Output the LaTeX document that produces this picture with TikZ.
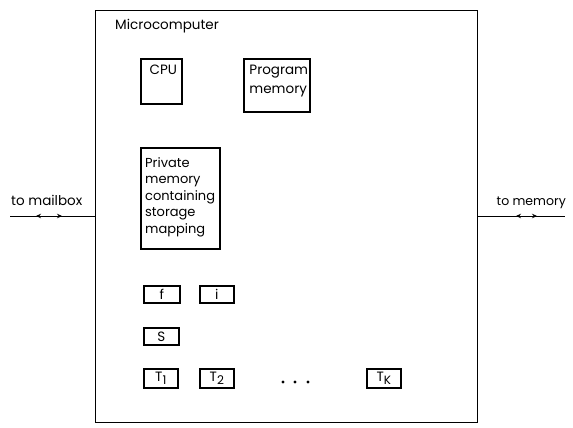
\documentclass[tikz,border=0pt]{standalone}
\usepackage{fontspec}
\setmainfont{Poppins}
\usetikzlibrary{arrows.meta}
\newcommand{\lsub}[1]{\raisebox{-2.5pt}{\fontsize{12}{12}\selectfont #1}}
\begin{document}
\begin{tikzpicture}[x=1pt,y=-1pt,
  box/.style={draw,line width=1.6pt,inner sep=0pt,anchor=north west},
  lbl/.style={font=\fontsize{13.5}{16}\selectfont},
  wire/.style={line width=1pt},
  tip/.style={-{Stealth[length=5pt,width=4.5pt]},line width=1pt}]
\useasboundingbox (0,0) rectangle (573,428);
\node[box,line width=1.1pt,minimum width=382pt,minimum height=412pt] (mc) at (95,10) {};
\node[lbl,anchor=north west,inner sep=0pt] (mct) at (115,19) {Microcomputer};
\node[box,minimum width=41pt,minimum height=45pt] (cpu) at (140,58) {};
\node[lbl,anchor=north,inner sep=0pt] (cput) at ([xshift=2pt,yshift=-7pt]cpu.north) {CPU};
\node[box,minimum width=66pt,minimum height=53pt] (pm) at (243,58) {};
\node[anchor=north,align=left,font=\fontsize{13.5}{19}\selectfont,inner sep=0pt] (pmt) at ([xshift=2pt,yshift=-7pt]pm.north) {Program\\memory};
\node[box,minimum width=79pt,minimum height=101pt] (pv) at (140,147) {};
\node[anchor=north west,align=left,font=\fontsize{13}{16.5}\selectfont,inner sep=0pt] (pvt) at ([xshift=5pt,yshift=-10pt]pv.north west) {Private\\memory\\containing\\storage\\mapping};
\node[box,minimum width=36pt,minimum height=17pt] (f) at (143,285) {};
\node[lbl] at (f.center) {f};
\node[box,minimum width=34pt,minimum height=17pt] (i) at (199,285) {};
\node[lbl] at (i.center) {i};
\node[box,minimum width=35pt,minimum height=17pt] (s) at (143,327) {};
\node[lbl] at (s.center) {S};
\node[box,minimum width=34pt,minimum height=19pt] (t1) at (143,368) {};
\node[lbl] at (t1.center) {T\lsub{1}};
\node[box,minimum width=34pt,minimum height=19pt] (t2) at (199,368) {};
\node[lbl] at (t2.center) {T\lsub{2}};
\node[box,minimum width=34pt,minimum height=19pt] (tk) at (366,368) {};
\node[lbl] at (tk.center) {T\lsub{K}};
\foreach \x in {283,295,308} \fill (\x,382) circle (1.7pt);
% left connector
\coordinate (lend) at (10,216);
\draw[wire] (lend) -- (lend -| mc.west);
\draw[tip] (48,216) -- (36,216);
\draw[tip] (50,216) -- (62,216);
\node[lbl,anchor=base west,inner sep=0pt] at (11,205) {to mailbox};
% right connector
\coordinate (rend) at (565,216);
\draw[wire] (rend -| mc.east) -- (rend);
\draw[tip] (526,216) -- (516,216);
\draw[tip] (527,216) -- (537,216);
\node[lbl,anchor=base east,font=\fontsize{12.5}{15}\selectfont,inner sep=0pt] at (566,205) {to memory};
\end{tikzpicture}
\end{document}
